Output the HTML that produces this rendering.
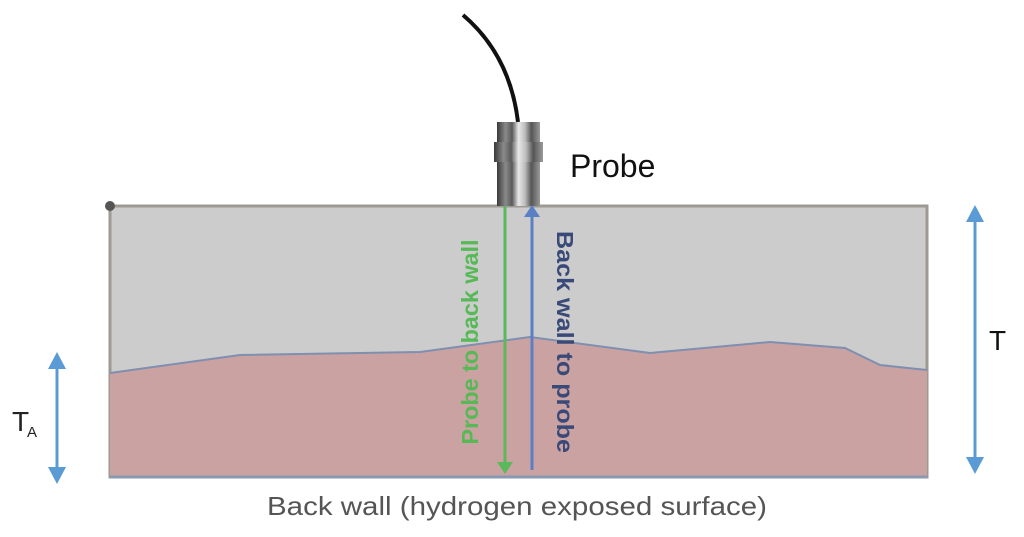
<!DOCTYPE html>
<html><head><meta charset="utf-8"><style>html,body{margin:0;padding:0;background:#fff;}svg{display:block}</style></head>
<body>
<svg width="1024" height="537" viewBox="0 0 1024 537" xmlns="http://www.w3.org/2000/svg">
<defs>
<linearGradient id="pg" x1="0" x2="1" y1="0" y2="0">
<stop offset="0" stop-color="#3a3a3a"/><stop offset="0.2" stop-color="#8a8a8a"/><stop offset="0.35" stop-color="#5a5a5a"/><stop offset="0.5" stop-color="#e8e8e8"/><stop offset="0.65" stop-color="#bdbdbd"/><stop offset="0.8" stop-color="#555"/><stop offset="1" stop-color="#9a9a9a"/>
</linearGradient>
</defs>
<rect x="110" y="206" width="817" height="271" fill="#cccccc" stroke="#9e9a92" stroke-width="3"/>
<polygon points="110,373 240,355 420,352 530,337 650,353 770,342 845,348 880,365 927,370 927,477 110,477" fill="#cba2a2"/>
<polyline points="110,373 240,355 420,352 530,337 650,353 770,342 845,348 880,365 927,370" fill="none" stroke="#7f8fb0" stroke-width="2"/>
<line x1="110" y1="477" x2="927" y2="477" stroke="#8a98b2" stroke-width="3"/>
<circle cx="110" cy="206" r="5" fill="#555"/>
<path d="M463,15 Q510,55 518,122" fill="none" stroke="#111" stroke-width="4"/>
<rect x="497" y="122" width="43" height="84" fill="url(#pg)"/>
<rect x="494" y="142" width="49" height="20" fill="url(#pg)"/>
<text x="570" y="177" font-family="Liberation Sans, sans-serif" font-size="32" fill="#111">Probe</text>
<line x1="505" y1="206" x2="505" y2="465" stroke="#5cb85c" stroke-width="3"/>
<polygon points="497,462 513,462 505,474" fill="#5cb85c"/>
<line x1="532" y1="470" x2="532" y2="214" stroke="#5b7fc4" stroke-width="3"/>
<polygon points="524,217 540,217 532,205" fill="#5b7fc4"/>
<text transform="translate(478,342) rotate(-90)" text-anchor="middle" font-family="Liberation Sans, sans-serif" font-size="23" font-weight="bold" fill="#56b956" textLength="205" lengthAdjust="spacingAndGlyphs">Probe to back wall</text>
<text transform="translate(557,342) rotate(90)" text-anchor="middle" font-family="Liberation Sans, sans-serif" font-size="23" font-weight="bold" fill="#3a4a78" textLength="222" lengthAdjust="spacingAndGlyphs">Back wall to probe</text>
<line x1="975" y1="214" x2="975" y2="465" stroke="#5b9bd5" stroke-width="3"/>
<polygon points="966,222 984,222 975,205" fill="#5b9bd5"/>
<polygon points="966,457 984,457 975,474" fill="#5b9bd5"/>
<text x="989" y="350" font-family="Liberation Sans, sans-serif" font-size="28" fill="#111">T</text>
<line x1="57" y1="360" x2="57" y2="475" stroke="#5b9bd5" stroke-width="3"/>
<polygon points="48,369 66,369 57,352" fill="#5b9bd5"/>
<polygon points="48,467 66,467 57,484" fill="#5b9bd5"/>
<text x="12" y="431" font-family="Liberation Sans, sans-serif" font-size="28" fill="#222">T</text>
<text x="27" y="437" font-family="Liberation Sans, sans-serif" font-size="15" fill="#222">A</text>
<text x="517" y="515" text-anchor="middle" font-family="Liberation Sans, sans-serif" font-size="26" fill="#555" textLength="500" lengthAdjust="spacingAndGlyphs">Back wall (hydrogen exposed surface)</text>
</svg>
</body></html>
